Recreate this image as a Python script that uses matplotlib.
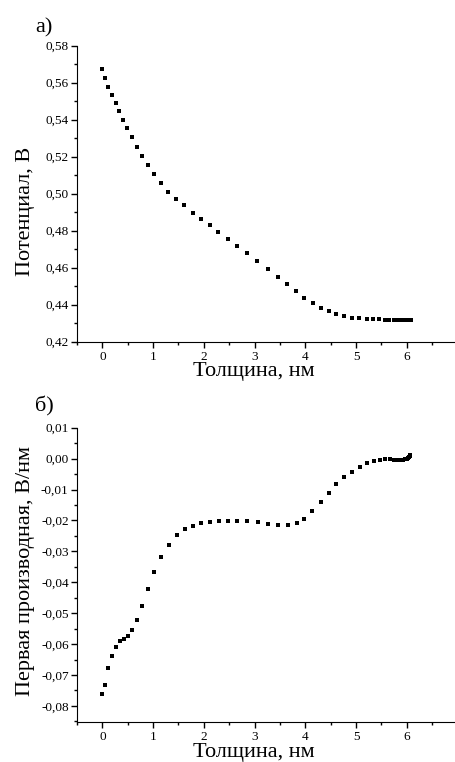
import matplotlib
matplotlib.use('Agg')
import matplotlib.pyplot as plt
from matplotlib.ticker import MultipleLocator, FuncFormatter

plt.rcParams['font.family'] = ['Liberation Serif', 'DejaVu Serif']

# panel a) potential vs thickness
thick_a = [0.0, 0.06, 0.12, 0.19, 0.26, 0.33, 0.41, 0.49, 0.585, 0.68, 0.78, 0.90,
           1.01, 1.16, 1.30, 1.46, 1.61, 1.78, 1.95, 2.12, 2.28, 2.47, 2.66, 2.85,
           3.05, 3.26, 3.46, 3.64, 3.82, 3.98, 4.15, 4.30, 4.46, 4.60, 4.76, 4.92,
           5.06, 5.21, 5.33, 5.45, 5.56, 5.65, 5.74, 5.81, 5.87, 5.92, 5.96, 6.00,
           6.03, 6.06, 6.08]
potential = [0.5672, 0.5624, 0.5578, 0.5533, 0.5490, 0.5445, 0.5400, 0.5353, 0.5305,
             0.5254, 0.5204, 0.5153, 0.5105, 0.5056, 0.5011, 0.4971, 0.4937, 0.4897,
             0.4862, 0.4829, 0.4791, 0.4757, 0.4717, 0.4679, 0.4636, 0.4591, 0.4551,
             0.4510, 0.4472, 0.4438, 0.4409, 0.4384, 0.4364, 0.4348, 0.4337, 0.4330,
             0.4326, 0.4323, 0.4321, 0.4321, 0.4319, 0.4318, 0.4318, 0.4318, 0.4318,
             0.4318, 0.4318, 0.4318, 0.4318, 0.4318, 0.4318]

# panel b) first derivative vs thickness
thick_b = [0.0, 0.06, 0.12, 0.19, 0.27, 0.35, 0.43, 0.50, 0.59, 0.68, 0.79, 0.89,
           1.02, 1.16, 1.31, 1.47, 1.62, 1.78, 1.94, 2.12, 2.29, 2.47, 2.66, 2.85,
           3.06, 3.26, 3.46, 3.65, 3.83, 3.98, 4.14, 4.30, 4.46, 4.61, 4.76, 4.92,
           5.07, 5.22, 5.35, 5.47, 5.57, 5.66, 5.74, 5.81, 5.87, 5.92, 5.96, 6.00,
           6.03, 6.05, 6.06, 6.07]
deriv = [-0.0763, -0.0733, -0.0678, -0.0637, -0.0609, -0.0591, -0.0584, -0.0574,
         -0.0555, -0.0522, -0.0477, -0.0423, -0.0368, -0.0318, -0.0279, -0.0248,
         -0.0228, -0.0217, -0.0208, -0.0204, -0.0202, -0.0202, -0.0202, -0.0203,
         -0.0206, -0.0212, -0.0216, -0.0216, -0.0209, -0.0194, -0.0171, -0.0141,
         -0.0110, -0.0083, -0.0061, -0.0042, -0.0027, -0.0015, -0.0008, -0.0004,
         -0.0001, -0.0002, -0.0003, -0.0003, -0.0003, -0.0003, -0.0002, -0.0001,
         0.0001, 0.0004, 0.0008, 0.0012]

x_ticks = list(range(0, 8))
x_ticklabels = ['0', '1', '2', '3', '4', '5', '6', '']


def comma_fmt(decimals):
    def f(v, pos):
        s = f"{v:.{decimals}f}".replace('.', ',')
        if s.startswith('-') and float(v) > -10 ** -(decimals + 1):
            s = s[1:]
        return s
    return FuncFormatter(f)


def style_axes(ax):
    for side in ['top', 'right']:
        ax.spines[side].set_visible(False)
    ax.set_xlim(-0.5, 7)
    ax.set_xticks(x_ticks)
    ax.set_xticklabels(x_ticklabels)
    ax.xaxis.set_minor_locator(MultipleLocator(0.5))
    ax.tick_params(which='major', direction='out', length=4, width=1, labelsize=9.5)
    ax.tick_params(which='minor', direction='out', length=2.5, width=1)
    ax.tick_params(axis='x', pad=3)
    ax.tick_params(axis='y', pad=2)
    ax.set_xlabel("Толщина, нм", fontsize=16, labelpad=0)


fig = plt.figure(figsize=(4.55, 7.62), dpi=100)

ax1 = fig.add_axes([0.1692, 0.5516, 0.8365, 0.3885])
ax1.plot(thick_a, potential, 's', color='black', markersize=3.2, markeredgewidth=0)
style_axes(ax1)
ax1.set_ylim(0.42, 0.58)
ax1.yaxis.set_major_locator(MultipleLocator(0.02))
ax1.yaxis.set_minor_locator(MultipleLocator(0.01))
ax1.yaxis.set_major_formatter(comma_fmt(2))
ax1.set_ylabel("Потенциал, В", fontsize=16)
ax1.yaxis.set_label_coords(-0.110, 0.44)
ax1.xaxis.set_label_coords(0.465, -0.070)

ax2 = fig.add_axes([0.1692, 0.0529, 0.8365, 0.3858])
ax2.plot(thick_b, deriv, 's', color='black', markersize=3.2, markeredgewidth=0)
style_axes(ax2)
ax2.set_ylim(-0.0851, 0.01)
ax2.yaxis.set_major_locator(MultipleLocator(0.01))
ax2.yaxis.set_minor_locator(MultipleLocator(0.005))
ax2.yaxis.set_major_formatter(comma_fmt(2))
ax2.set_ylabel("Первая производная, В/нм", fontsize=16)
ax2.yaxis.set_label_coords(-0.110, 0.511)
ax2.xaxis.set_label_coords(0.465, -0.072)

fig.text(0.077, 0.963, "а)", fontsize=16, ha='left', va='center')
fig.text(0.077, 0.467, "б)", fontsize=16, ha='left', va='center')

fig.savefig('out.png', dpi=100)
